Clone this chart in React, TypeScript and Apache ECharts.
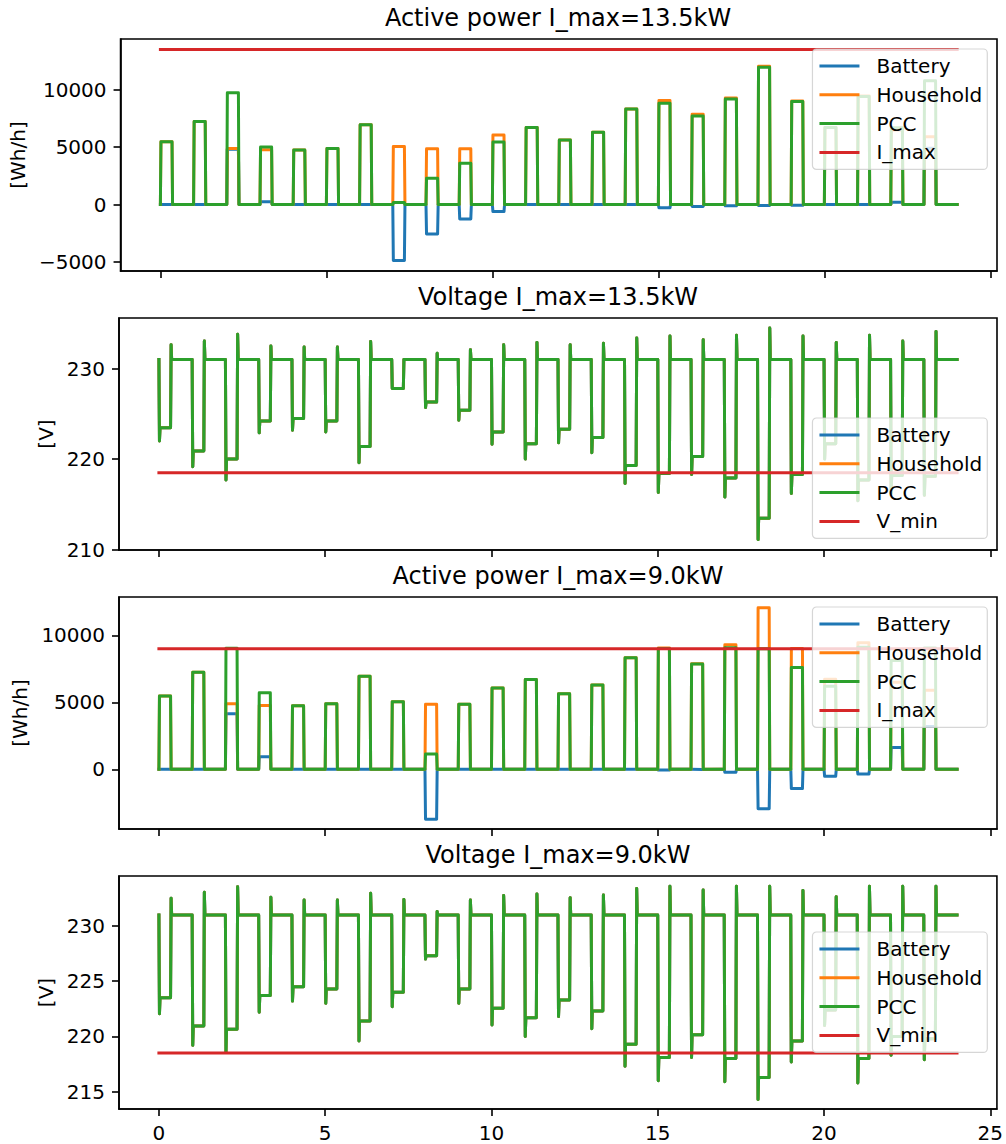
import { useEffect, useRef } from 'react';
import * as echarts from 'echarts';

// ---------------- data ----------------
// pulse start hours (each pulse lasts PULSE_W hours)
const pulseHours = [0, 1, 2, 3, 4, 5, 6, 7, 8, 9, 10, 11, 12, 13, 14, 15, 16, 17, 18, 19, 20, 21, 22, 23];
const DAY_END = 24;

// household demand (Wh/h) during each pulse
const household = [5470, 7235, 4890, 4770, 4750, 4890, 6940, 5050, 4860, 4860, 6060, 6710, 5630, 6300, 8320, 9060, 7870, 9290, 12050, 9020, 6720, 9450, 6500, 5900];

// I_max = 13.5 kW scenario
const battery13 = [0, 0, 4820, 250, 0, 0, 0, -4870, -2560, -1260, -610, 0, 0, 0, 0, -280, -160, -110, -90, -60, 0, 0, 200, 4900];
const pcc13 = [5470, 7235, 9740, 5020, 4750, 4890, 6940, 170, 2290, 3600, 5450, 6710, 5630, 6300, 8320, 8830, 7720, 9200, 11960, 8980, 6720, 9420, 6680, 10790];

// I_max = 9.0 kW scenario
const battery9 = [0, 0, 4150, 945, 0, 0, 0, 0, -3730, 0, 0, 0, 0, 0, 0, -60, -20, -220, -2940, -1440, -520, -350, 1620, 3185];
const pcc9 = [5470, 7235, 9040, 5720, 4750, 4890, 6940, 5050, 1140, 4860, 6060, 6710, 5630, 6300, 8320, 9010, 7850, 9070, 9000, 7590, 6200, 9100, 8120, 9050];

// voltages (V): base level, dip at pulse start, level during pulse, overshoot at pulse end
const vBase = 231;
const vLow13 = [222.0, 219.15, 217.7, 222.9, 223.2, 223.0, 219.6, 227.8, 225.7, 224.3, 221.65, 220.0, 221.8, 220.7, 217.3, 216.3, 218.3, 215.8, 211.1, 216.2, 220.0, 215.4, 216.2, 216.0];
const vLevel13 = [223.46, 220.9, 220.0, 224.2, 224.5, 224.2, 221.4, 227.8, 226.3, 225.4, 223.0, 221.7, 223.3, 222.4, 219.3, 218.4, 220.3, 217.9, 213.45, 218.3, 221.7, 217.7, 218.2, 218.1];
const vHigh13 = [232.65, 233.05, 233.8, 232.5, 232.4, 232.4, 233.0, 231.0, 231.7, 232.1, 232.65, 232.9, 232.65, 232.8, 233.4, 233.6, 233.2, 233.7, 234.5, 233.6, 232.9, 233.7, 233.05, 234.1];

const vLow9 = [222.05, 219.2, 218.6, 222.2, 223.2, 223.0, 219.6, 222.7, 227.0, 223.0, 221.05, 220.0, 221.8, 220.7, 217.3, 216.0, 218.1, 215.9, 214.3, 217.7, 221.0, 215.8, 218.3, 217.9];
const vLevel9 = [223.5, 220.96, 220.66, 223.7, 224.5, 224.3, 221.4, 224.0, 227.3, 224.3, 222.56, 221.7, 223.3, 222.3, 219.3, 218.1, 220.15, 218.0, 216.3, 219.6, 222.4, 218.0, 220.0, 219.8];
const vHigh9 = [232.5, 233.04, 233.55, 232.6, 232.35, 232.35, 232.95, 232.4, 231.3, 232.35, 232.75, 232.9, 232.56, 232.8, 233.4, 233.6, 233.25, 233.6, 233.6, 233.2, 232.65, 233.6, 233.6, 233.6];

const iMax13 = 13500;
const iMax9 = 9000;
const vMin = 218.5;

const xTicks = [0, 5, 10, 15, 20, 25];
const powerTicks13 = [-5000, 0, 5000, 10000];
const voltTicks13 = [210, 220, 230];
const powerTicks9 = [0, 5000, 10000];
const voltTicks9 = [215, 220, 225, 230];

const titles = ['Active power I_max=13.5kW', 'Voltage I_max=13.5kW', 'Active power I_max=9.0kW', 'Voltage I_max=9.0kW'];
const yNames = ['[Wh/h]', '[V]', '[Wh/h]', '[V]'];

// ---------------- helpers ----------------
const PULSE_W = 0.35;
const RAMP = 1 / 60;

function powerTrace(values: number[]) {
  const pts: number[][] = [];
  values.forEach((v, i) => {
    const s = pulseHours[i];
    pts.push([s, 0], [s + RAMP, v], [s + PULSE_W, v], [s + PULSE_W + RAMP, 0]);
  });
  pts.push([DAY_END, 0]);
  return pts;
}

function voltageTrace(low: number[], level: number[], high: number[]) {
  const pts: number[][] = [];
  low.forEach((lo, i) => {
    const s = pulseHours[i];
    pts.push(
      [s, vBase],
      [s + RAMP, lo],
      [s + 2 * RAMP, level[i]],
      [s + PULSE_W, level[i]],
      [s + PULSE_W + RAMP, high[i]],
      [s + PULSE_W + 2 * RAMP, vBase]
    );
  });
  pts.push([DAY_END, vBase]);
  return pts;
}

const FONT = 'DejaVu Sans';
const C_BAT = '#1f77b4';
const C_HH = '#ff7f0e';
const C_PCC = '#2ca02c';
const C_LIM = '#d62728';

const GRID_LEFT = 119;
const GRID_W = 878;
const gridTops = [39, 318, 597, 876];
const gridHeights = [232, 232, 232, 233];
const yRanges = [
  [-5788, 14418],
  [209.95, 235.6],
  [-4455, 12858],
  [213.44, 234.52],
];
const yTicks = [powerTicks13, voltTicks13, powerTicks9, voltTicks9];
const yNameGaps = [90, 60, 86, 60];
const legendTops = [49, 418, 607, 932];

function lineSeries(name: string, color: string, data: number[][], idx: number) {
  return {
    type: 'line',
    name,
    xAxisIndex: idx,
    yAxisIndex: idx,
    data,
    showSymbol: false,
    symbol: 'none',
    silent: true,
    lineStyle: { color, width: 3, join: 'round', cap: 'square' },
    itemStyle: { color },
    emphasis: { disabled: true },
  };
}

export default function App() {
  const ref = useRef<HTMLDivElement>(null);

  useEffect(() => {
    if (!ref.current) return;
    const chart = echarts.init(ref.current, null, { renderer: 'svg' });

    const p13 = powerTrace(pcc13);
    const v13 = voltageTrace(vLow13, vLevel13, vHigh13);
    const v9 = voltageTrace(vLow9, vLevel9, vHigh9);

    const series: any[] = [
      // panel 1
      lineSeries('Battery', C_BAT, powerTrace(battery13), 0),
      lineSeries('Household', C_HH, powerTrace(household), 0),
      lineSeries('PCC', C_PCC, p13, 0),
      lineSeries('I_max', C_LIM, [[0, iMax13], [DAY_END, iMax13]], 0),
      // panel 2
      lineSeries('Battery', C_BAT, v13, 1),
      lineSeries('Household', C_HH, v13, 1),
      lineSeries('PCC', C_PCC, v13, 1),
      lineSeries('V_min', C_LIM, [[0, vMin], [DAY_END, vMin]], 1),
      // panel 3
      lineSeries('Battery', C_BAT, powerTrace(battery9), 2),
      lineSeries('Household', C_HH, powerTrace(household), 2),
      lineSeries('PCC', C_PCC, powerTrace(pcc9), 2),
      lineSeries('I_max', C_LIM, [[0, iMax9], [DAY_END, iMax9]], 2),
      // panel 4
      lineSeries('Battery', C_BAT, v9, 3),
      lineSeries('Household', C_HH, v9, 3),
      lineSeries('PCC', C_PCC, v9, 3),
      lineSeries('V_min', C_LIM, [[0, vMin], [DAY_END, vMin]], 3),
    ];

    const grids = gridTops.map((t, i) => ({
      left: GRID_LEFT,
      top: t,
      width: GRID_W,
      height: gridHeights[i],
      show: true,
      borderColor: '#000',
      borderWidth: 1.6,
      backgroundColor: 'transparent',
      containLabel: false,
    }));

    const xAxes = gridTops.map((_, i) => ({
      type: 'value',
      gridIndex: i,
      min: -1.2,
      max: 25.2,
      axisLine: { show: true, onZero: false, lineStyle: { color: '#000', width: 1.6 } },
      splitLine: { show: false },
      axisTick: { show: true, customValues: xTicks, length: 7, inside: false, lineStyle: { color: '#000', width: 1.6 } },
      axisLabel: {
        show: i === 3,
        customValues: xTicks,
        fontSize: 20,
        fontFamily: FONT,
        color: '#000',
        margin: 14,
      },
    }));

    const yAxes = gridTops.map((_, i) => ({
      type: 'value',
      gridIndex: i,
      min: yRanges[i][0],
      max: yRanges[i][1],
      name: yNames[i],
      nameLocation: 'middle',
      nameRotate: 90,
      nameGap: yNameGaps[i],
      nameTextStyle: { fontSize: 20, fontFamily: FONT, color: '#000' },
      axisLine: { show: true, onZero: false, lineStyle: { color: '#000', width: 1.6 } },
      splitLine: { show: false },
      axisTick: { show: true, customValues: yTicks[i], length: 7, inside: false, lineStyle: { color: '#000', width: 1.6 } },
      axisLabel: {
        customValues: yTicks[i],
        fontSize: 20,
        fontFamily: FONT,
        color: '#000',
        margin: 14,
        formatter: (v: number) => String(v).replace('-', '\u2212'),
      },
    }));

    const legends = legendTops.map((t, i) => ({
      orient: 'vertical',
      right: 18.7,
      top: t,
      icon: 'rect',
      itemWidth: 40,
      itemHeight: 3,
      itemGap: 8.8,
      padding: [7, 5, 7, 7],
      backgroundColor: 'rgba(255,255,255,0.8)',
      borderColor: 'rgba(204,204,204,0.8)',
      borderWidth: 1.2,
      borderRadius: 4,
      selectedMode: false,
      textStyle: { fontSize: 20, fontFamily: FONT, color: '#000', padding: [0, 0, 0, 12] },
      data: ['Battery', 'Household', 'PCC', i % 2 === 0 ? 'I_max' : 'V_min'],
    }));

    const graphics = titles.map((t, i) => ({
      type: 'text',
      x: GRID_LEFT + GRID_W / 2,
      y: gridTops[i] - 21,
      style: {
        text: t,
        fontSize: 24,
        fontFamily: FONT,
        fill: '#000',
        align: 'center',
        verticalAlign: 'middle',
      },
    }));

    chart.setOption({
      animation: false,
      backgroundColor: '#ffffff',
      grid: grids,
      xAxis: xAxes,
      yAxis: yAxes,
      legend: legends,
      graphic: graphics,
      series,
    });

    return () => chart.dispose();
  }, []);

  return (
    <div
      ref={ref}
      style={{ position: 'absolute', left: 0, top: 0, width: 1006, height: 1144, background: '#fff' }}
    />
  );
}
